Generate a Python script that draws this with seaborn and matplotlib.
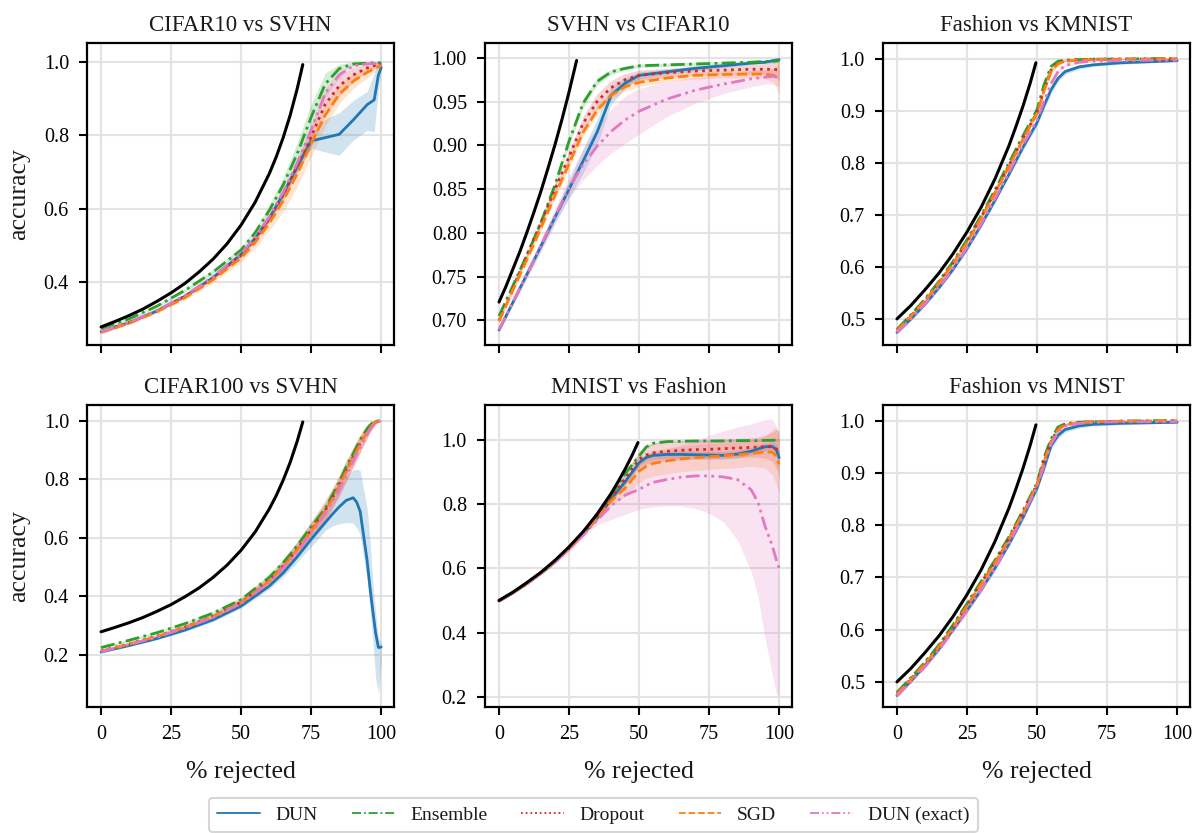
import matplotlib
matplotlib.use("Agg")
import matplotlib.pyplot as plt
from matplotlib.lines import Line2D
import seaborn as sns
import numpy as np

# ---------------- data ----------------
series_names = ["DUN", "Ensemble", "Dropout", "SGD", "DUN (exact)"]
titles = ["CIFAR10 vs SVHN", "SVHN vs CIFAR10", "Fashion vs KMNIST",
          "CIFAR100 vs SVHN", "MNIST vs Fashion", "Fashion vs MNIST"]

# --- Panel A: CIFAR10 vs SVHN
A_x = [0, 10, 20, 30, 40, 50, 55, 60, 65, 70, 75, 80, 85, 90, 95, 97.5, 99, 100]
A_dun = [0.265, 0.290, 0.322, 0.362, 0.413, 0.476, 0.520, 0.574, 0.640, 0.715, 0.785, 0.794, 0.803, 0.842, 0.884, 0.897, 0.965, 0.985]
A_ens = [0.274, 0.300, 0.335, 0.378, 0.428, 0.488, 0.535, 0.595, 0.665, 0.750, 0.850, 0.940, 0.982, 0.995, 0.997, 0.998, 0.998, 0.998]
A_drop = [0.265, 0.290, 0.322, 0.362, 0.412, 0.474, 0.518, 0.572, 0.637, 0.715, 0.797, 0.885, 0.935, 0.965, 0.984, 0.990, 0.993, 0.993]
A_sgd = [0.263, 0.288, 0.320, 0.358, 0.407, 0.466, 0.508, 0.560, 0.622, 0.695, 0.778, 0.855, 0.912, 0.948, 0.972, 0.982, 0.988, 0.990]
A_exact = [0.265, 0.290, 0.323, 0.364, 0.415, 0.478, 0.522, 0.578, 0.645, 0.725, 0.815, 0.915, 0.965, 0.990, 0.995, 0.996, 0.996, 0.996]
A_dun_lo = [0.262, 0.287, 0.319, 0.358, 0.409, 0.471, 0.514, 0.566, 0.630, 0.700, 0.765, 0.755, 0.746, 0.787, 0.814, 0.810, 0.924, 0.975]
A_dun_hi = [0.268, 0.293, 0.325, 0.366, 0.417, 0.481, 0.526, 0.582, 0.650, 0.730, 0.805, 0.845, 0.862, 0.895, 0.920, 0.970, 1.000, 0.995]
A_ens_sd = [0.004, 0.004, 0.004, 0.005, 0.006, 0.008, 0.010, 0.014, 0.020, 0.030, 0.035, 0.030, 0.012, 0.005, 0.003, 0.003, 0.003, 0.003]
A_drop_sd = [0.003, 0.003, 0.003, 0.004, 0.005, 0.006, 0.008, 0.010, 0.014, 0.018, 0.025, 0.030, 0.028, 0.020, 0.010, 0.008, 0.006, 0.006]
A_sgd_sd = [0.004, 0.004, 0.005, 0.006, 0.008, 0.010, 0.015, 0.020, 0.030, 0.035, 0.035, 0.030, 0.025, 0.020, 0.015, 0.010, 0.008, 0.008]
A_exact_sd = [0.002, 0.002, 0.002, 0.003, 0.004, 0.005, 0.006, 0.008, 0.010, 0.012, 0.015, 0.012, 0.008, 0.004, 0.003, 0.003, 0.003, 0.003]
A_bx = [0, 5, 10, 15, 20, 25, 30, 35, 40, 45, 50, 55, 60, 62.5, 65, 67.5, 70, 72]
A_by = [0.278, 0.293, 0.309, 0.327, 0.348, 0.371, 0.397, 0.428, 0.463, 0.505, 0.556, 0.618, 0.695, 0.741, 0.794, 0.855, 0.927, 0.993]

# --- Panel B: SVHN vs CIFAR10
B_x = [0, 5, 10, 15, 20, 25, 30, 35, 40, 45, 50, 60, 70, 80, 90, 95, 98, 100]
B_dun = [0.689, 0.721, 0.753, 0.785, 0.818, 0.850, 0.882, 0.915, 0.957, 0.971, 0.980, 0.984, 0.988, 0.991, 0.994, 0.995, 0.997, 0.998]
B_ens = [0.705, 0.740, 0.775, 0.812, 0.855, 0.905, 0.948, 0.973, 0.984, 0.988, 0.991, 0.992, 0.993, 0.994, 0.995, 0.996, 0.996, 0.997]
B_drop = [0.700, 0.737, 0.775, 0.812, 0.850, 0.887, 0.925, 0.950, 0.966, 0.975, 0.980, 0.983, 0.985, 0.986, 0.987, 0.987, 0.987, 0.986]
B_sgd = [0.699, 0.735, 0.770, 0.806, 0.843, 0.879, 0.915, 0.940, 0.957, 0.967, 0.972, 0.977, 0.980, 0.981, 0.9815, 0.9815, 0.980, 0.976]
B_exact = [0.689, 0.721, 0.753, 0.786, 0.819, 0.852, 0.878, 0.899, 0.916, 0.929, 0.939, 0.953, 0.963, 0.970, 0.976, 0.978, 0.979, 0.977]
B_dun_sd = [0.002, 0.003, 0.004, 0.005, 0.006, 0.010, 0.014, 0.015, 0.010, 0.006, 0.004, 0.003, 0.003, 0.002, 0.002, 0.002, 0.002, 0.002]
B_ens_sd = [0.002, 0.002, 0.003, 0.003, 0.004, 0.005, 0.005, 0.004, 0.003, 0.002, 0.002, 0.002, 0.002, 0.002, 0.002, 0.002, 0.002, 0.002]
B_drop_sd = [0.002, 0.003, 0.003, 0.004, 0.005, 0.006, 0.008, 0.009, 0.008, 0.007, 0.006, 0.005, 0.005, 0.005, 0.005, 0.006, 0.008, 0.012]
B_sgd_sd = [0.002, 0.003, 0.003, 0.004, 0.004, 0.005, 0.005, 0.005, 0.005, 0.005, 0.005, 0.004, 0.004, 0.004, 0.004, 0.005, 0.008, 0.018]
B_exact_sd = [0.002, 0.003, 0.005, 0.007, 0.009, 0.012, 0.018, 0.022, 0.025, 0.027, 0.026, 0.020, 0.015, 0.011, 0.009, 0.008, 0.009, 0.010]
B_bx = [0, 2.5, 5, 7.5, 10, 12.5, 15, 17.5, 20, 22.5, 25, 27.7]
B_by = [0.721, 0.739, 0.759, 0.779, 0.801, 0.824, 0.848, 0.874, 0.901, 0.930, 0.961, 0.997]

# --- Panel C: Fashion vs KMNIST
C_x = [0, 5, 10, 15, 20, 25, 30, 35, 40, 45, 50, 52.5, 55, 57.5, 60, 65, 70, 80, 90, 100]
C_dun = [0.474, 0.500, 0.528, 0.560, 0.595, 0.635, 0.680, 0.728, 0.778, 0.830, 0.877, 0.910, 0.940, 0.962, 0.975, 0.984, 0.988, 0.992, 0.994, 0.996]
C_ens = [0.480, 0.508, 0.538, 0.572, 0.610, 0.652, 0.698, 0.748, 0.800, 0.852, 0.902, 0.950, 0.985, 0.995, 0.997, 0.998, 0.999, 0.999, 1.000, 1.000]
C_drop = [0.478, 0.506, 0.536, 0.570, 0.607, 0.649, 0.695, 0.744, 0.795, 0.847, 0.897, 0.940, 0.978, 0.992, 0.996, 0.998, 0.999, 0.999, 0.999, 0.999]
C_sgd = [0.478, 0.505, 0.535, 0.569, 0.606, 0.647, 0.693, 0.742, 0.793, 0.845, 0.895, 0.938, 0.975, 0.990, 0.995, 0.997, 0.998, 0.999, 0.999, 1.000]
C_exact = [0.474, 0.500, 0.529, 0.561, 0.597, 0.637, 0.682, 0.731, 0.782, 0.835, 0.882, 0.918, 0.952, 0.975, 0.987, 0.993, 0.995, 0.996, 0.997, 0.997]
C_dun_sd = [0.003, 0.003, 0.003, 0.004, 0.004, 0.004, 0.005, 0.005, 0.005, 0.006, 0.006, 0.007, 0.007, 0.006, 0.005, 0.004, 0.003, 0.003, 0.002, 0.002]
C_ens_sd = [0.002, 0.002, 0.003, 0.003, 0.003, 0.004, 0.004, 0.004, 0.004, 0.004, 0.004, 0.005, 0.004, 0.003, 0.002, 0.002, 0.002, 0.001, 0.001, 0.001]
C_drop_sd = [0.002, 0.002, 0.003, 0.003, 0.003, 0.004, 0.004, 0.004, 0.004, 0.004, 0.004, 0.005, 0.004, 0.003, 0.002, 0.002, 0.002, 0.001, 0.001, 0.001]
C_sgd_sd = [0.002, 0.002, 0.003, 0.003, 0.003, 0.004, 0.004, 0.004, 0.004, 0.004, 0.004, 0.005, 0.004, 0.003, 0.002, 0.002, 0.002, 0.001, 0.001, 0.001]
C_exact_sd = [0.002, 0.002, 0.003, 0.003, 0.003, 0.004, 0.004, 0.004, 0.004, 0.004, 0.005, 0.005, 0.005, 0.004, 0.003, 0.002, 0.002, 0.002, 0.001, 0.001]
C_bx = [0, 5, 10, 15, 20, 25, 30, 35, 40, 42.5, 45, 47.5, 49.6]
C_by = [0.500, 0.526, 0.556, 0.588, 0.625, 0.667, 0.714, 0.769, 0.833, 0.870, 0.909, 0.952, 0.992]

# --- Panel D: CIFAR100 vs SVHN
D_x = [0, 10, 20, 30, 40, 50, 60, 65, 70, 75, 80, 82.5, 85, 87.5, 90, 91.25, 92.5, 95, 96, 97, 98, 99, 100]
D_dun = [0.210, 0.232, 0.256, 0.285, 0.320, 0.367, 0.435, 0.480, 0.535, 0.595, 0.652, 0.680, 0.706, 0.728, 0.737, 0.722, 0.690, 0.520, 0.430, 0.350, 0.275, 0.225, 0.227]
D_ens = [0.225, 0.250, 0.276, 0.307, 0.343, 0.389, 0.465, 0.515, 0.573, 0.638, 0.700, 0.745, 0.790, 0.843, 0.888, 0.912, 0.935, 0.974, 0.985, 0.994, 0.998, 1.000, 1.000]
D_drop = [0.214, 0.238, 0.264, 0.295, 0.332, 0.380, 0.453, 0.503, 0.561, 0.626, 0.694, 0.735, 0.780, 0.830, 0.877, 0.900, 0.924, 0.965, 0.978, 0.989, 0.996, 0.999, 1.000]
D_sgd = [0.213, 0.237, 0.263, 0.294, 0.331, 0.379, 0.451, 0.501, 0.559, 0.623, 0.691, 0.731, 0.776, 0.826, 0.873, 0.897, 0.920, 0.962, 0.976, 0.987, 0.995, 0.999, 1.000]
D_exact = [0.211, 0.235, 0.261, 0.292, 0.328, 0.376, 0.447, 0.496, 0.553, 0.616, 0.683, 0.722, 0.766, 0.815, 0.862, 0.886, 0.910, 0.955, 0.970, 0.983, 0.993, 0.998, 1.000]
D_dun_lo = [0.206, 0.228, 0.252, 0.280, 0.314, 0.360, 0.425, 0.466, 0.517, 0.570, 0.625, 0.640, 0.648, 0.653, 0.650, 0.635, 0.610, 0.455, 0.360, 0.250, 0.120, 0.070, 0.170]
D_dun_hi = [0.214, 0.236, 0.260, 0.290, 0.326, 0.374, 0.445, 0.494, 0.553, 0.620, 0.685, 0.725, 0.770, 0.810, 0.832, 0.835, 0.830, 0.700, 0.590, 0.450, 0.345, 0.260, 0.240]
D_ens_sd = [0.003, 0.004, 0.005, 0.006, 0.007, 0.008, 0.010, 0.012, 0.013, 0.014, 0.015, 0.015, 0.015, 0.015, 0.014, 0.013, 0.012, 0.008, 0.006, 0.004, 0.003, 0.002, 0.002]
D_drop_sd = [0.004, 0.005, 0.006, 0.008, 0.010, 0.013, 0.018, 0.022, 0.026, 0.030, 0.033, 0.034, 0.035, 0.035, 0.033, 0.032, 0.030, 0.022, 0.017, 0.012, 0.007, 0.004, 0.003]
D_sgd_sd = [0.004, 0.005, 0.006, 0.008, 0.010, 0.013, 0.018, 0.022, 0.026, 0.030, 0.033, 0.034, 0.035, 0.035, 0.033, 0.032, 0.030, 0.022, 0.017, 0.012, 0.007, 0.004, 0.003]
D_exact_sd = [0.003, 0.004, 0.005, 0.006, 0.007, 0.009, 0.012, 0.014, 0.016, 0.018, 0.020, 0.020, 0.020, 0.020, 0.019, 0.018, 0.017, 0.012, 0.009, 0.006, 0.004, 0.002, 0.002]
D_bx = [0, 5, 10, 15, 20, 25, 30, 35, 40, 45, 50, 55, 60, 62.5, 65, 67.5, 70, 72]
D_by = [0.279, 0.294, 0.310, 0.328, 0.349, 0.372, 0.399, 0.429, 0.465, 0.507, 0.558, 0.620, 0.698, 0.744, 0.797, 0.858, 0.930, 0.996]

# --- Panel E: MNIST vs Fashion
E_x = [0, 5, 10, 15, 20, 25, 30, 35, 40, 45, 50, 52.5, 55, 60, 65, 70, 75, 80, 85, 90, 92.5, 95, 97.5, 99, 100]
E_dun = [0.498, 0.524, 0.553, 0.585, 0.621, 0.662, 0.707, 0.757, 0.815, 0.870, 0.929, 0.945, 0.952, 0.955, 0.955, 0.954, 0.953, 0.952, 0.956, 0.965, 0.972, 0.979, 0.980, 0.970, 0.945]
E_ens = [0.498, 0.524, 0.553, 0.585, 0.621, 0.663, 0.708, 0.759, 0.825, 0.895, 0.950, 0.978, 0.990, 0.995, 0.996, 0.997, 0.997, 0.997, 0.998, 0.998, 0.998, 0.999, 0.999, 1.000, 1.000]
E_drop = [0.498, 0.524, 0.553, 0.585, 0.621, 0.662, 0.707, 0.758, 0.818, 0.880, 0.940, 0.953, 0.960, 0.965, 0.968, 0.970, 0.971, 0.973, 0.975, 0.977, 0.978, 0.979, 0.979, 0.972, 0.958]
E_sgd = [0.498, 0.524, 0.553, 0.585, 0.621, 0.661, 0.706, 0.755, 0.810, 0.850, 0.903, 0.918, 0.927, 0.935, 0.941, 0.945, 0.948, 0.951, 0.954, 0.958, 0.960, 0.963, 0.962, 0.950, 0.924]
E_exact = [0.498, 0.524, 0.553, 0.585, 0.620, 0.660, 0.703, 0.750, 0.795, 0.828, 0.846, 0.858, 0.868, 0.877, 0.884, 0.888, 0.888, 0.885, 0.877, 0.845, 0.805, 0.730, 0.672, 0.626, 0.600]
E_exact_lo = [0.496, 0.521, 0.549, 0.580, 0.613, 0.651, 0.697, 0.735, 0.752, 0.768, 0.784, 0.788, 0.791, 0.795, 0.794, 0.787, 0.771, 0.745, 0.690, 0.590, 0.510, 0.380, 0.270, 0.210, 0.200]
E_exact_hi = [0.500, 0.527, 0.557, 0.590, 0.627, 0.669, 0.712, 0.765, 0.840, 0.890, 0.920, 0.935, 0.950, 0.970, 0.985, 0.997, 1.015, 1.028, 1.040, 1.050, 1.057, 1.064, 1.066, 1.040, 1.000]
E_dun_sd = [0.002, 0.002, 0.003, 0.003, 0.004, 0.004, 0.005, 0.006, 0.008, 0.010, 0.012, 0.012, 0.012, 0.012, 0.012, 0.012, 0.012, 0.012, 0.012, 0.012, 0.012, 0.012, 0.015, 0.020, 0.025]
E_ens_sd = [0.002, 0.002, 0.003, 0.003, 0.003, 0.004, 0.004, 0.005, 0.006, 0.006, 0.006, 0.005, 0.004, 0.003, 0.003, 0.003, 0.003, 0.003, 0.003, 0.003, 0.003, 0.003, 0.003, 0.004, 0.005]
E_drop_sd = [0.002, 0.002, 0.003, 0.003, 0.003, 0.004, 0.005, 0.007, 0.010, 0.020, 0.025, 0.028, 0.030, 0.030, 0.030, 0.030, 0.030, 0.030, 0.030, 0.030, 0.032, 0.035, 0.045, 0.060, 0.070]
E_sgd_sd = [0.002, 0.002, 0.003, 0.003, 0.003, 0.004, 0.005, 0.008, 0.015, 0.025, 0.035, 0.038, 0.040, 0.040, 0.040, 0.040, 0.040, 0.040, 0.040, 0.040, 0.045, 0.050, 0.070, 0.090, 0.090]
E_bx = [0, 5, 10, 15, 20, 25, 30, 35, 40, 42.5, 45, 47.5, 49.6]
E_by = [0.500, 0.526, 0.556, 0.588, 0.625, 0.667, 0.714, 0.769, 0.833, 0.870, 0.909, 0.952, 0.992]

# --- Panel F: Fashion vs MNIST
F_x = [0, 5, 10, 15, 20, 25, 30, 35, 40, 45, 50, 52.5, 55, 57.5, 60, 65, 70, 80, 90, 100]
F_dun = [0.474, 0.502, 0.531, 0.563, 0.600, 0.637, 0.676, 0.718, 0.764, 0.815, 0.871, 0.910, 0.952, 0.972, 0.983, 0.990, 0.993, 0.995, 0.996, 0.997]
F_ens = [0.480, 0.508, 0.538, 0.571, 0.609, 0.650, 0.692, 0.733, 0.778, 0.828, 0.881, 0.930, 0.965, 0.988, 0.994, 0.997, 0.998, 0.999, 1.000, 1.000]
F_drop = [0.478, 0.506, 0.536, 0.569, 0.606, 0.647, 0.689, 0.730, 0.775, 0.825, 0.878, 0.925, 0.960, 0.984, 0.993, 0.997, 0.998, 0.999, 0.999, 1.000]
F_sgd = [0.477, 0.505, 0.535, 0.567, 0.604, 0.645, 0.687, 0.728, 0.773, 0.823, 0.877, 0.923, 0.958, 0.983, 0.992, 0.996, 0.998, 0.999, 0.999, 1.000]
F_exact = [0.473, 0.500, 0.529, 0.561, 0.598, 0.636, 0.676, 0.718, 0.765, 0.818, 0.874, 0.915, 0.955, 0.978, 0.990, 0.995, 0.997, 0.998, 0.998, 0.998]
F_dun_sd = [0.003, 0.003, 0.003, 0.004, 0.004, 0.004, 0.005, 0.005, 0.005, 0.006, 0.006, 0.007, 0.007, 0.006, 0.005, 0.004, 0.003, 0.003, 0.002, 0.002]
F_ens_sd = [0.002, 0.002, 0.003, 0.003, 0.003, 0.004, 0.004, 0.004, 0.004, 0.004, 0.004, 0.005, 0.004, 0.003, 0.002, 0.002, 0.002, 0.001, 0.001, 0.001]
F_drop_sd = [0.002, 0.002, 0.003, 0.003, 0.003, 0.004, 0.004, 0.004, 0.004, 0.004, 0.004, 0.005, 0.004, 0.003, 0.002, 0.002, 0.002, 0.001, 0.001, 0.001]
F_sgd_sd = [0.002, 0.002, 0.003, 0.003, 0.003, 0.004, 0.004, 0.004, 0.004, 0.004, 0.004, 0.005, 0.004, 0.003, 0.002, 0.002, 0.002, 0.001, 0.001, 0.001]
F_exact_sd = [0.002, 0.002, 0.003, 0.003, 0.003, 0.004, 0.004, 0.004, 0.004, 0.004, 0.005, 0.005, 0.005, 0.004, 0.003, 0.002, 0.002, 0.002, 0.001, 0.001]
F_bx = [0, 5, 10, 15, 20, 25, 30, 35, 40, 42.5, 45, 47.5, 49.6]
F_by = [0.500, 0.526, 0.556, 0.588, 0.625, 0.667, 0.714, 0.769, 0.833, 0.870, 0.909, 0.952, 0.992]

# axis limits
y_limits = [(0.229, 1.052), (0.672, 1.017), (0.45, 1.03),
            (0.022, 1.054), (0.168, 1.109), (0.452, 1.03)]
x_limits = (-5, 104.6)
x_ticks = [0, 25, 50, 75, 100]


def bands(mean, sd=None, lo=None, hi=None):
    m = np.asarray(mean)
    if lo is not None:
        return m, np.asarray(lo), np.asarray(hi)
    s = np.asarray(sd)
    return m, m - s, m + s


panels = [
    (A_x, {"DUN": bands(A_dun, lo=A_dun_lo, hi=A_dun_hi), "Ensemble": bands(A_ens, A_ens_sd),
           "Dropout": bands(A_drop, A_drop_sd), "SGD": bands(A_sgd, A_sgd_sd),
           "DUN (exact)": bands(A_exact, A_exact_sd)}, A_bx, A_by),
    (B_x, {"DUN": bands(B_dun, B_dun_sd), "Ensemble": bands(B_ens, B_ens_sd),
           "Dropout": bands(B_drop, B_drop_sd), "SGD": bands(B_sgd, B_sgd_sd),
           "DUN (exact)": bands(B_exact, B_exact_sd)}, B_bx, B_by),
    (C_x, {"DUN": bands(C_dun, C_dun_sd), "Ensemble": bands(C_ens, C_ens_sd),
           "Dropout": bands(C_drop, C_drop_sd), "SGD": bands(C_sgd, C_sgd_sd),
           "DUN (exact)": bands(C_exact, C_exact_sd)}, C_bx, C_by),
    (D_x, {"DUN": bands(D_dun, lo=D_dun_lo, hi=D_dun_hi), "Ensemble": bands(D_ens, D_ens_sd),
           "Dropout": bands(D_drop, D_drop_sd), "SGD": bands(D_sgd, D_sgd_sd),
           "DUN (exact)": bands(D_exact, D_exact_sd)}, D_bx, D_by),
    (E_x, {"DUN": bands(E_dun, E_dun_sd), "Ensemble": bands(E_ens, E_ens_sd),
           "Dropout": bands(E_drop, E_drop_sd), "SGD": bands(E_sgd, E_sgd_sd),
           "DUN (exact)": bands(E_exact, lo=E_exact_lo, hi=E_exact_hi)}, E_bx, E_by),
    (F_x, {"DUN": bands(F_dun, F_dun_sd), "Ensemble": bands(F_ens, F_ens_sd),
           "Dropout": bands(F_drop, F_drop_sd), "SGD": bands(F_sgd, F_sgd_sd),
           "DUN (exact)": bands(F_exact, F_exact_sd)}, F_bx, F_by),
]

styles = {
    "DUN": ("#1f77b4", "-"),
    "Ensemble": ("#2ca02c", (0, (5, 1.6, 1, 1.6))),
    "Dropout": ("#d62728", (0, (1, 1.6))),
    "SGD": ("#ff7f0e", (0, (3.7, 1.6))),
    "DUN (exact)": ("#e377c2", (0, (5, 1.6, 1, 1.6, 1, 1.6))),
}

# ---------------- style ----------------
sns.set_theme(style="whitegrid")
plt.rcParams.update({
    "font.family": ["Liberation Serif", "DejaVu Serif"],
    "axes.edgecolor": "black",
    "axes.linewidth": 1.6,
    "grid.color": "#e3e3e3",
    "grid.linewidth": 1.5,
    "xtick.bottom": True,
    "ytick.left": True,
    "xtick.direction": "out",
    "ytick.direction": "out",
    "xtick.major.size": 6,
    "ytick.major.size": 6,
    "xtick.major.width": 1.5,
    "ytick.major.width": 1.5,
    "xtick.color": "black",
    "ytick.color": "black",
    "xtick.major.pad": 7,
    "ytick.major.pad": 7,
    "xtick.labelsize": 14.5,
    "ytick.labelsize": 14.5,
    "text.color": "#1a1a1a",
    "axes.labelcolor": "#1a1a1a",
})

fig, axes = plt.subplots(2, 3, figsize=(11.99, 8.33), dpi=100, sharex=True)
fig.subplots_adjust(left=0.0726, right=0.9925, top=0.9484, bottom=0.1513,
                    wspace=0.296, hspace=0.199)

for i, ax in enumerate(axes.flat):
    x, ser, bx, by = panels[i]
    for name in series_names:
        m, lo, hi = ser[name]
        color, ls = styles[name]
        ax.fill_between(x, lo, hi, color=color, alpha=0.2, lw=0)
        sns.lineplot(x=x, y=m, ax=ax, color=color, linestyle=ls, linewidth=2.0,
                     label=name, errorbar=None)
    sns.lineplot(x=bx, y=by, ax=ax, color="black", linewidth=2.2, errorbar=None)
    if ax.get_legend() is not None:
        ax.get_legend().remove()
    ax.set_xlim(*x_limits)
    ax.set_ylim(*y_limits[i])
    ax.set_xticks(x_ticks)
    ax.set_title(titles[i], fontsize=16.5, pad=8.5)
    for sp in ax.spines.values():
        sp.set_visible(True)
        sp.set_color("black")
    ax.set_xlabel("")
    ax.set_ylabel("")

for ax in axes[0]:
    ax.tick_params(labelbottom=False)
for ax in axes[1]:
    ax.set_xlabel("% rejected", fontsize=18.5, labelpad=12)
for ax in axes[:, 0]:
    ax.set_ylabel("accuracy", fontsize=18.5, labelpad=10)

handles = [Line2D([], [], color=styles[n][0], linestyle=styles[n][1], lw=1.3)
           for n in series_names]
leg = fig.legend(handles, series_names, loc="lower center", bbox_to_anchor=(0.495, -0.003),
                 ncol=5, fontsize=14, handlelength=2.2, columnspacing=1.75,
                 handletextpad=0.8, frameon=True, fancybox=True, borderaxespad=0.2)
leg.get_frame().set_edgecolor("#cccccc")
leg.get_frame().set_linewidth(1.5)

fig.savefig("out.png", dpi=100)
